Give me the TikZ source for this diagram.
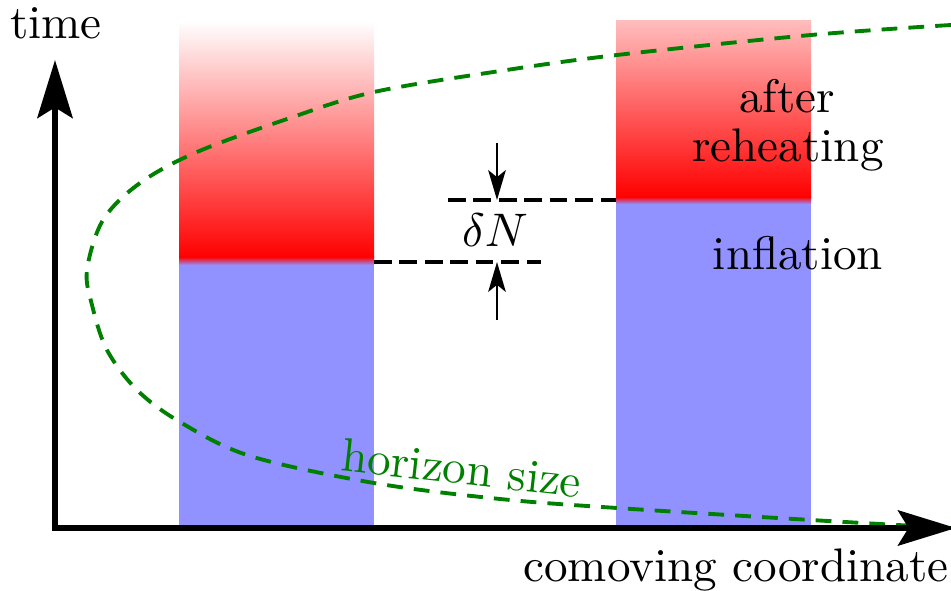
\documentclass[tikz,border=0pt]{standalone}
\usepackage{graphicx}
\usetikzlibrary{arrows.meta}
\newcommand{\BigTxt}[1]{\scalebox{2.68}{#1}}
\tikzset{
  lbl/.style={inner sep=0pt, anchor=base},
  horizon/.style={green!50!black, line width=2.2pt, dash pattern=on 9pt off 6.3pt},
  dashline/.style={black, line width=1.8pt, dash pattern=on 10pt off 4.5pt},
  smallarrow/.style={black, line width=1.4pt, -{Stealth[length=17pt,width=10pt,inset=4pt]}},
  axisline/.style={black, line width=3.6pt, line join=miter,
    {Stealth[length=33pt,width=20pt,inset=6pt]}-{Stealth[length=33pt,width=20pt,inset=6pt]}}
}
\begin{document}
\begin{tikzpicture}[x=0.02cm,y=-0.02cm]
\useasboundingbox (0,0) rectangle (951,591);
% left bar
\fill[blue!43] (179,261) rectangle (374,528);
\shade[top color=white,bottom color=red] (179,21) rectangle (374,257.5);
\shade[top color=red,bottom color=blue!43] (179,257) rectangle (374,265);
% right bar
\fill[blue!43] (616,200) rectangle (811,528);
\shade[top color=red!26,bottom color=red] (616,21) rectangle (811,197.5);
\shade[top color=red,bottom color=blue!43] (616,197) rectangle (811,204);
% horizon curve
\draw[horizon] plot[smooth,tension=0.55] coordinates {
 (951,25) (811,35) (617,55) (500,71) (374,92) (290,118) (197,152) (140,183)
 (103,220) (87,270) (92,305) (107,350) (137,390) (180,422) (250,456)
 (374,483) (500,499) (617,508) (811,520) (951,528)};
\node[lbl, green!50!black, rotate=-6.4] (hs) at (460,484) {\BigTxt{horizon size}};
% delta N markers
\coordinate (l1) at (374,262); \coordinate (l2) at (541,262);
\coordinate (u1) at (448,200); \coordinate (u2) at (616,200);
\draw[dashline] (l1) -- (l2);
\draw[dashline] (u1) -- (u2);
\coordinate (a1s) at (497,143); \coordinate (a1e) at (497,200);
\coordinate (a2s) at (497,320); \coordinate (a2e) at (497,262);
\draw[smallarrow] (a1s) -- (a1e);
\draw[smallarrow] (a2s) -- (a2e);
\node[lbl] (dN) at (495,247) {\BigTxt{$\delta N$}};
% labels
\node[lbl] (after) at (787,113) {\BigTxt{after}};
\node[lbl] (reh) at (788,162) {\BigTxt{reheating}};
\node[lbl] (infl) at (798,270) {\BigTxt{inflation}};
% axes
\coordinate (ytip) at (55,60); \coordinate (orig) at (55,528); \coordinate (xtip) at (956,528);
\draw[axisline] (ytip) -- (orig) -- (xtip);
\node[lbl] (time) at (56,39) {\BigTxt{time}};
\node[lbl, anchor=base west] (cc) at (523,582) {\BigTxt{comoving coordinate}};
\end{tikzpicture}
\end{document}
